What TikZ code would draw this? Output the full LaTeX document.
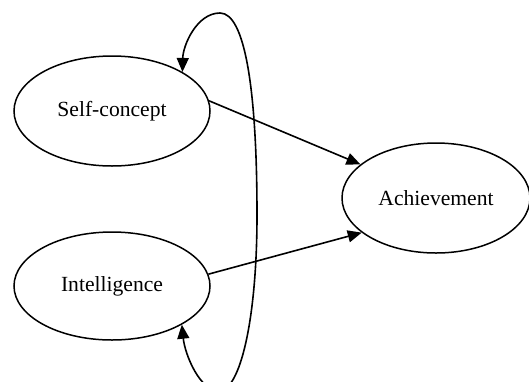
\documentclass[tikz,border=0pt]{standalone}
\usepackage{fontspec}
\setmainfont{Liberation Serif}
\usetikzlibrary{shapes.geometric,arrows.meta}
\begin{document}
\begin{tikzpicture}[x=1pt,y=-1pt,
  var/.style={ellipse,draw,line width=1.5pt,inner sep=0pt,font=\fontsize{21.6}{26}\selectfont},
  conn/.style={line width=1.6pt,-{Triangle[length=14pt,width=12pt]}},
  loopline/.style={line width=1.6pt,{Triangle[length=14pt,width=12pt]}-{Triangle[length=14pt,width=12pt]}}]
\useasboundingbox (0,0) rectangle (529,381);
\node[var,minimum width=196pt,minimum height=110pt] (S) at (112,111) {Self-concept};
\node[var,minimum width=196pt,minimum height=108pt] (I) at (112,286) {Intelligence};
\node[var,minimum width=188pt,minimum height=110pt] (A) at (436,198) {Achievement};
\draw[conn] (S.6) -- (A.156);
\draw[conn] (I.7) -- (A.205);
\coordinate (bot) at (219,391);
\coordinate (mid) at (257,215);
\coordinate (top) at (220,13);
\draw[loopline] (I.-29) .. controls (185,355) and (200,391) .. (bot)
  .. controls (240,391) and (257,320) .. (mid)
  .. controls (257,90) and (245,13) .. (top)
  .. controls (197,13) and (183,45) .. (S.29);
\end{tikzpicture}
\end{document}
